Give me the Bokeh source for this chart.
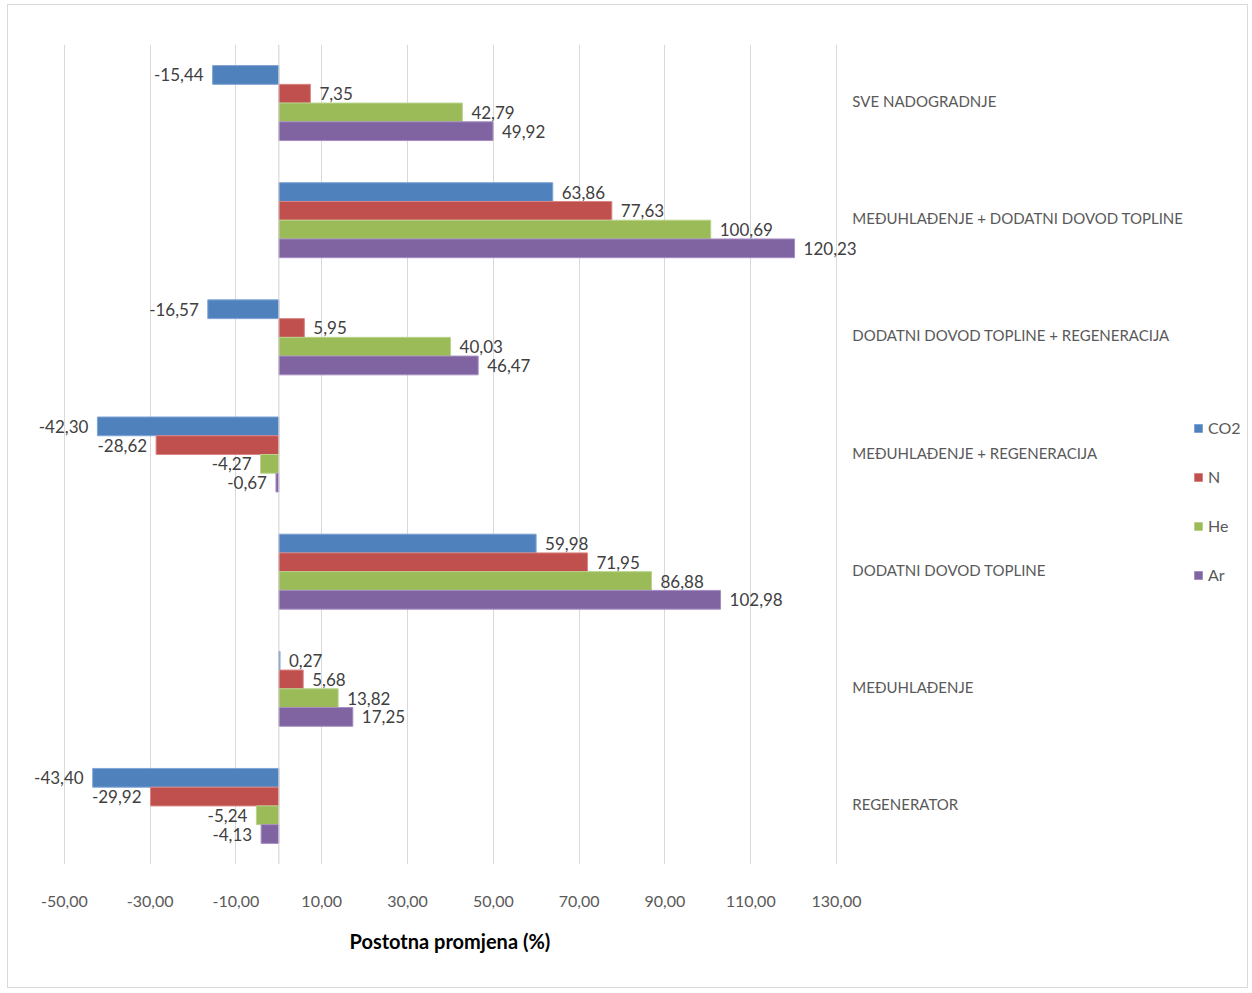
from bokeh.plotting import figure
from bokeh.models import (ColumnDataSource, FactorRange, Range1d, FixedTicker,
                          Span, Legend, LegendItem, Title)
from bokeh.transform import dodge
from bokeh.core.properties import value
from bokeh.embed import file_html
from bokeh.resources import INLINE

# ---------------- data ----------------
categories = [
    "SVE NADOGRADNJE",
    "MEĐUHLAĐENJE + DODATNI DOVOD TOPLINE",
    "DODATNI DOVOD TOPLINE + REGENERACIJA",
    "MEĐUHLAĐENJE + REGENERACIJA",
    "DODATNI DOVOD TOPLINE",
    "MEĐUHLAĐENJE",
    "REGENERATOR",
]
series_names = ["CO2", "N", "He", "Ar"]
co2 = [-15.44, 63.86, -16.57, -42.30, 59.98, 0.27, -43.40]
n = [7.35, 77.63, 5.95, -28.62, 71.95, 5.68, -29.92]
he = [42.79, 100.69, 40.03, -4.27, 86.88, 13.82, -5.24]
ar = [49.92, 120.23, 46.47, -0.67, 102.98, 17.25, -4.13]
x_ticks = [-50, -30, -10, 10, 30, 50, 70, 90, 110, 130]
x_tick_labels = ["-50,00", "-30,00", "-10,00", "10,00", "30,00", "50,00",
                 "70,00", "90,00", "110,00", "130,00"]
axis_title = "Postotna promjena (%)"

# ---------------- style ----------------
colors = ["#4F81BD", "#C0504D", "#9BBB59", "#8064A2"]
edge_colors = ["#7FA3D4", "#D98583", "#B9D38A", "#A68DC2"]
offsets = [0.24, 0.08, -0.08, -0.24]
FONT = "Lato"
CAT_LABEL_X = 133.7   # data x where the category captions start (right of the 130 gridline)

p = figure(
    width=1241, height=984,
    y_range=FactorRange(*reversed(categories)),
    x_range=Range1d(-60, 224.2),
    output_backend="svg", toolbar_location=None,
    min_border_left=13, min_border_top=39, min_border_bottom=125,
    min_border_right=9,
)
p.styles = {"border": "1px solid #d9d9d9", "margin-left": "7px", "margin-top": "4px"}
p.outline_line_color = None
p.background_fill_color = "white"
p.border_fill_color = "white"
p.yaxis.visible = False

# grid
p.xgrid.ticker = FixedTicker(ticks=x_ticks)
p.xgrid.grid_line_color = "#d9d9d9"
p.ygrid.grid_line_color = None
p.add_layout(Span(location=0, dimension="height", line_color="#d0d0d0", line_width=1))

# bars + labels
renderers = []
for name, vals, col, ecol, off in zip(series_names, [co2, n, he, ar], colors, edge_colors, offsets):
    labels = [f"{v:.2f}".replace(".", ",") for v in vals]
    src = ColumnDataSource(dict(
        cat=categories, val=vals, lab=labels,
        align=["left" if v >= 0 else "right" for v in vals],
        xoff=[9 if v >= 0 else -9 for v in vals],
    ))
    r = p.hbar(y=dodge("cat", off, range=p.y_range), left=0, right="val", height=0.16,
               source=src, fill_color=col, line_color=ecol, line_width=1)
    renderers.append((name, r))
    p.text(x="val", y=dodge("cat", off, range=p.y_range), text="lab", source=src,
           text_align="align", x_offset="xoff", text_baseline="middle",
           text_font=value(FONT), text_font_size="17px", text_color="#404040")

# category captions (right of the plotting area)
cat_src = ColumnDataSource(dict(cat=categories, x=[CAT_LABEL_X] * len(categories)))
p.text(x="x", y="cat", text="cat", source=cat_src, text_align="left",
       text_baseline="middle", text_font=value(FONT), text_font_size="15px",
       text_color="#595959", y_offset=-2)

# x axis
xa = p.xaxis[0]
xa.ticker = FixedTicker(ticks=x_ticks)
xa.major_label_overrides = {t: l for t, l in zip(x_ticks, x_tick_labels)}
xa.axis_line_color = None
xa.major_tick_line_color = None
xa.minor_tick_line_color = None
xa.major_label_standoff = 25
xa.major_label_text_font = FONT
xa.major_label_text_font_size = "16px"
xa.major_label_text_color = "#595959"

ttl = Title(text=axis_title, align="left", offset=328, standoff=34,
            text_font=FONT, text_font_style="bold", text_font_size="20px",
            text_color="#000000")
p.add_layout(ttl, "below")

# legend
legend = Legend(
    items=[LegendItem(label=nm, renderers=[r]) for nm, r in renderers],
    location=(1172, 280),
    orientation="vertical",
    glyph_width=10, glyph_height=10,
    label_text_font=FONT, label_text_font_size="16px", label_text_color="#595959",
    spacing=30, padding=0, margin=0,
    border_line_color=None, background_fill_alpha=0,
    label_standoff=5,
)
p.add_layout(legend, "center")

open("out.html", "w").write(file_html(p, INLINE))
